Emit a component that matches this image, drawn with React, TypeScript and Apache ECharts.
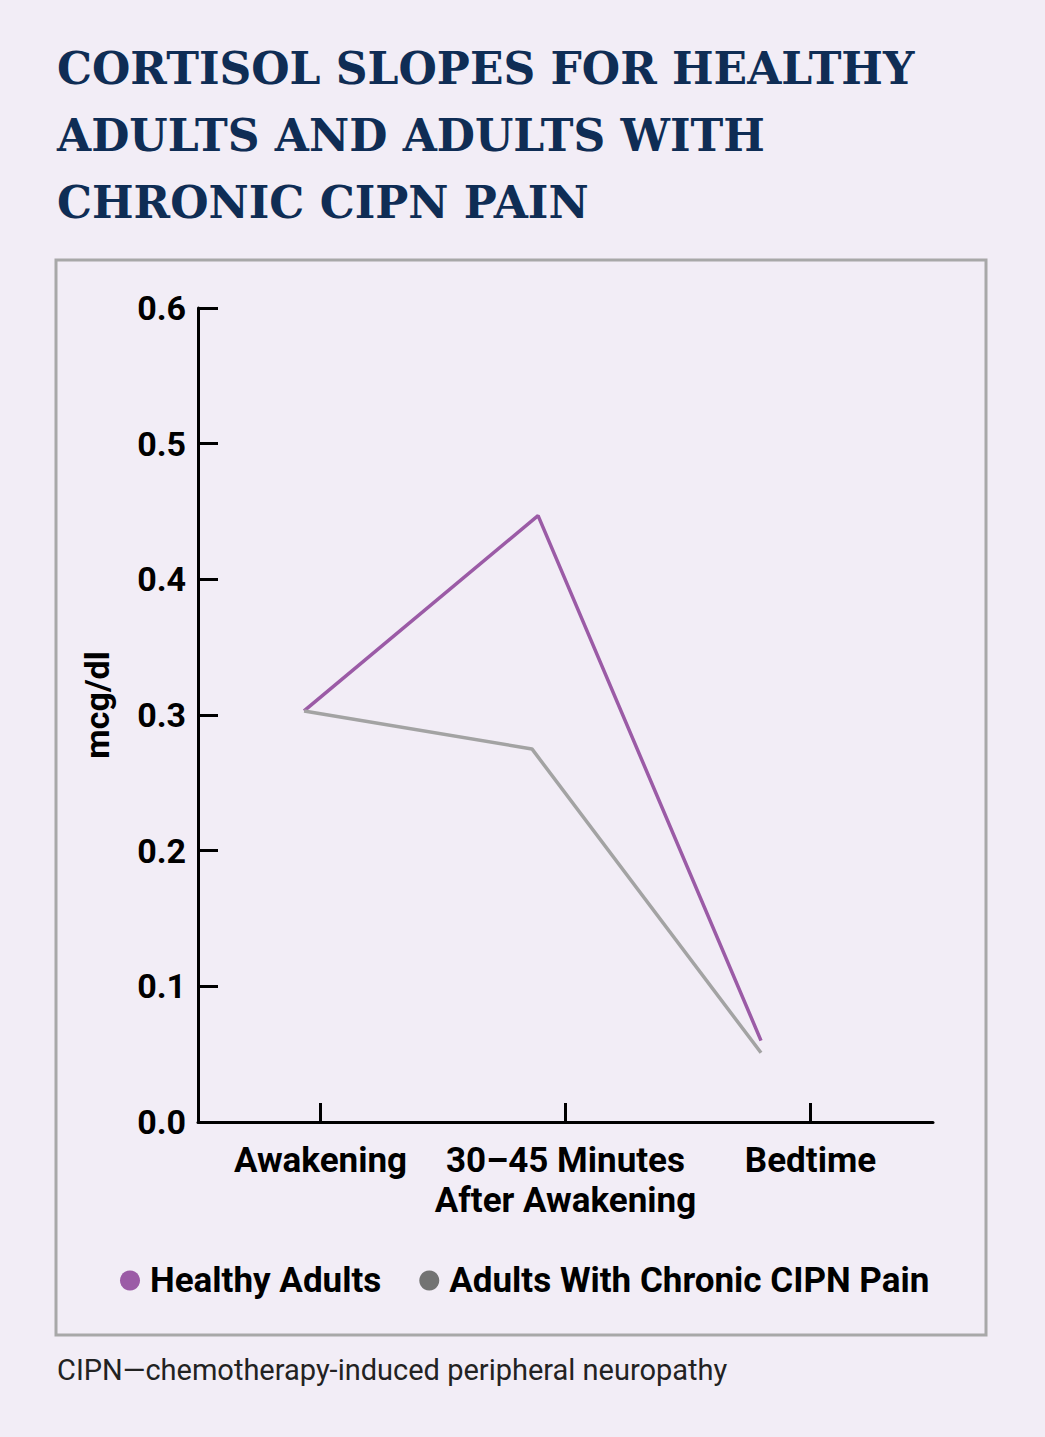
import React, { useEffect, useRef } from "react";
import * as echarts from "echarts";

const titleText = "CORTISOL SLOPES FOR HEALTHY\nADULTS AND ADULTS WITH\nCHRONIC CIPN PAIN";
const caption = "CIPN\u2014chemotherapy-induced peripheral neuropathy";
const categories = ["Awakening", "30\u201345 Minutes\nAfter Awakening", "Bedtime"];
const yTicks = [0, 0.1, 0.2, 0.3, 0.4, 0.5, 0.6];
const seriesNames = ["Healthy Adults", "Adults With Chronic CIPN Pain"];
// x positions (in category units, 0..3) and values (mcg/dl) as drawn
const healthyX = [0.433, 1.388, 2.298];
const healthyY = [0.303, 0.447, 0.06];
const cipnX = [0.433, 1.363, 2.298];
const cipnY = [0.303, 0.275, 0.051];

export default function App() {
  const ref = useRef<HTMLDivElement>(null);
  useEffect(() => {
    const chart = echarts.init(ref.current!, null, { renderer: "svg" });
    const font = "Roboto";
    chart.setOption({
      animation: false,
      backgroundColor: "#f2edf6",
      title: {
        text: titleText,
        left: 52,
        top: 30,
        textStyle: {
          fontFamily: "DejaVu Serif",
          fontWeight: "bold",
          fontSize: 44,
          lineHeight: 67,
          color: "#0f2d55",
        },
      },
      graphic: [
        {
          type: "rect",
          shape: { x: 56, y: 260, width: 930, height: 1075 },
          style: { fill: "none", stroke: "#a8a8a8", lineWidth: 3 },
          z: -1,
        },
        {
          type: "text",
          left: 57,
          top: 1355,
          style: { text: caption, fontFamily: font, fontSize: 29, fill: "#222" },
        },
        {
          type: "text",
          x: 97,
          y: 705,
          rotation: Math.PI / 2,
          style: {
            text: "mcg/dl",
            fontFamily: font,
            fontWeight: "bold",
            fontSize: 34,
            fill: "#000",
            align: "center",
            verticalAlign: "middle",
          },
        },
      ],
      legend: {
        left: 115,
        top: 1258,
        icon: "circle",
        itemWidth: 20,
        itemHeight: 20,
        itemGap: 38,
        textStyle: {
          fontFamily: font,
          fontWeight: "bold",
          fontSize: 35,
          color: "#000",
          padding: [0, 0, 0, 5],
        },
        data: [
          { name: seriesNames[0], itemStyle: { color: "#9b5ba6" } },
          { name: seriesNames[1], itemStyle: { color: "#737373" } },
        ],
      },
      grid: { left: 198, right: 112, top: 308, bottom: 315 },
      xAxis: [
        {
          type: "category",
          data: categories,
          boundaryGap: true,
          axisLine: { lineStyle: { color: "#000", width: 3 } },
          axisTick: {
            show: true,
            interval: 0,
            alignWithLabel: true,
            inside: true,
            length: 19,
            lineStyle: { color: "#000", width: 3 },
          },
          axisLabel: {
            interval: 0,
            fontFamily: font,
            fontWeight: "bold",
            fontSize: 35,
            lineHeight: 40,
            color: "#000",
            margin: 18,
          },
        },
        { type: "value", min: 0, max: 3, show: false },
      ],
      yAxis: {
        type: "value",
        min: 0,
        max: 0.6,
        interval: 0.1,
        splitLine: { show: false },
        axisLine: { show: true, lineStyle: { color: "#000", width: 3 } },
        axisTick: { show: true, inside: true, length: 20, lineStyle: { color: "#000", width: 3 } },
        axisLabel: {
          fontFamily: font,
          fontWeight: "bold",
          fontSize: 34,
          color: "#000",
          margin: 12,
          formatter: (v: number) => (yTicks.includes(Math.round(v * 10) / 10) ? v.toFixed(1) : ""),
        },
      },
      series: [
        {
          name: seriesNames[0],
          type: "line",
          xAxisIndex: 1,
          data: healthyX.map((x, i) => [x, healthyY[i]]),
          showSymbol: false,
          symbol: "none",
          lineStyle: { color: "#9b5ba6", width: 3.5 },
          itemStyle: { color: "#9b5ba6" },
        },
        {
          name: seriesNames[1],
          type: "line",
          xAxisIndex: 1,
          data: cipnX.map((x, i) => [x, cipnY[i]]),
          showSymbol: false,
          symbol: "none",
          lineStyle: { color: "#a3a3a3", width: 3.5 },
          itemStyle: { color: "#737373" },
        },
      ],
    });
    return () => chart.dispose();
  }, []);
  return <div ref={ref} style={{ width: 1045, height: 1437, position: "absolute", left: 0, top: 0 }} />;
}
